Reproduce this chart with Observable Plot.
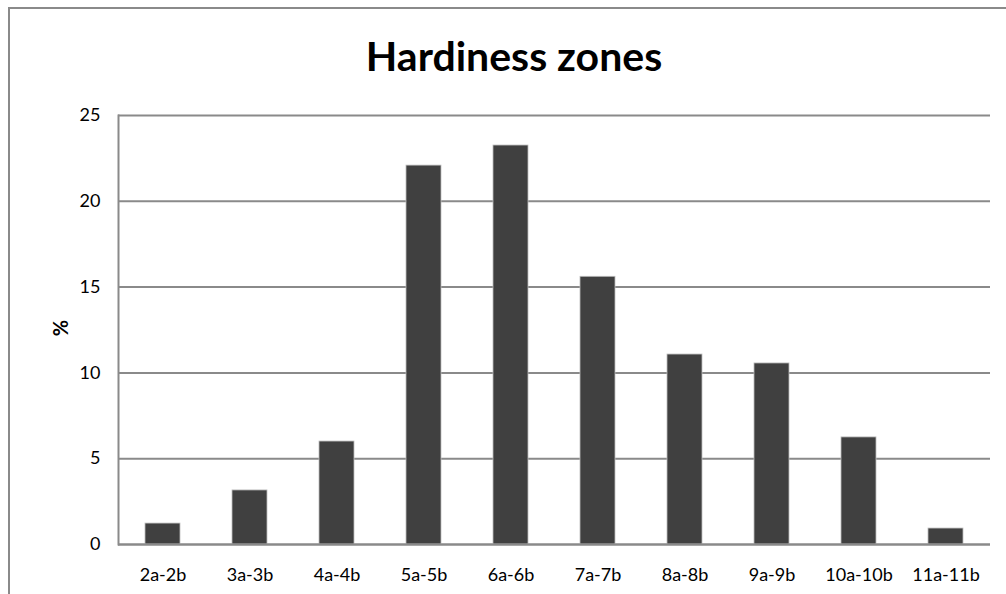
<!DOCTYPE html>
<html>
<head>
<meta charset="utf-8">
<script src="https://cdn.jsdelivr.net/npm/d3@7"></script>
<script src="https://cdn.jsdelivr.net/npm/@observablehq/plot@0.6"></script>
<style>
  html, body { margin: 0; padding: 0; background: #fff; overflow: hidden; }
  body { width: 1006px; height: 594px; position: relative; font-family: Lato, "Open Sans", sans-serif; }
  #frame { position: absolute; left: 8px; top: 7px; width: 1100px; height: 700px;
           border-left: 2px solid #8a8a8a; border-top: 2px solid #8a8a8a; }
  #title { position: absolute; left: 0; top: 0; width: 1006px; height: 100px; }
  #title div { position: absolute; left: 0; width: 1028px; top: 31px; text-align: center;
               font-weight: bold; font-size: 41px; color: #000; font-family: Lato, sans-serif; }
  #chart { position: absolute; left: 0; top: 100px; }
  #ylab { position: absolute; left: 52px; top: 316px; font-weight: bold; font-size: 20px;
          transform: rotate(-90deg); transform-origin: center; font-family: Lato, sans-serif; }
</style>
</head>
<body>
<div id="frame"></div>
<div id="title"><div>Hardiness zones</div></div>
<div id="chart"></div>
<div id="ylab">%</div>
<script>
const zones = ["2a-2b","3a-3b","4a-4b","5a-5b","6a-6b","7a-7b","8a-8b","9a-9b","10a-10b","11a-11b"];
const percents = [1.22, 3.15, 6.0, 22.08, 23.25, 15.6, 11.07, 10.55, 6.24, 0.93];
const yTicks = [0, 5, 10, 15, 20, 25];

const data = zones.map((z, i) => ({zone: z, pct: percents[i]}));

const chart = Plot.plot({
  width: 1006,
  height: 494,
  marginTop: 15,
  marginBottom: 50,
  marginLeft: 118,
  marginRight: 16,
  style: {fontFamily: "Lato, sans-serif", fontSize: "18px", color: "#000", background: "transparent"},
  x: {domain: zones, paddingInner: 0.6, paddingOuter: 0.3, label: null},
  y: {domain: [0, 25], ticks: yTicks, label: null},
  marks: [
    Plot.ruleY(yTicks, {stroke: "#8a8a8a", strokeWidth: 2}),
    Plot.barY(data, {x: "zone", y: "pct", fill: "#404040", stroke: "#bdbdbd", strokeWidth: 0.8}),
    Plot.axisY({ticks: yTicks, tickSize: 0, tickPadding: 18, fontSize: 18, label: null}),
    Plot.axisX({tickSize: 0, tickPadding: 24, fontSize: 18, label: null}),
    Plot.ruleY([0], {stroke: "#8a8a8a", strokeWidth: 2}),
    Plot.frame({anchor: "left", stroke: "#8a8a8a", strokeWidth: 2})
  ]
});
document.getElementById("chart").appendChild(chart);
</script>
</body>
</html>
